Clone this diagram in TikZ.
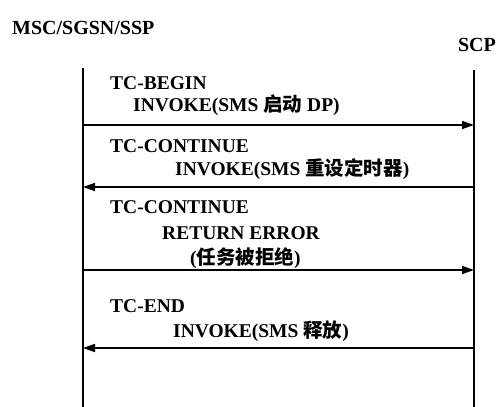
\documentclass[tikz,border=0pt]{standalone}
\usepackage{fontspec}
\setmainfont{Liberation Serif}
\newfontfamily\cjk{Noto Sans CJK SC}
\usetikzlibrary{arrows.meta}
\def\leftx{83}
\def\rightx{474}
\tikzstyle{msg} = [line width=1.5pt,-{Triangle[length=12pt,width=8pt]}]

\begin{document}
\begin{tikzpicture}[x=1pt,y=-1pt]
    \tikzstyle{lifeline}=[line width=1.5pt]
    \tikzstyle{entity}=[inner sep=0pt, font=\fontsize{20}{24}\selectfont\bfseries]
    \tikzstyle{msg text}=[inner sep=0pt, anchor=west, font=\fontsize{19.5}{23}\selectfont\bfseries]
    \useasboundingbox (0,0) rectangle (499,407);

    % Draw the entities
    \node[entity, anchor=west] (MSC) at (12,28) {MSC/SGSN/SSP};
    \node[entity, anchor=east] (SCP) at (496,45) {SCP};

    % Draw the lifelines
    \coordinate (L-top) at (\leftx,68);
    \coordinate (L-bot) at (\leftx,407);
    \coordinate (R-top) at (\rightx,70);
    \coordinate (R-bot) at (\rightx,407);
    \draw[lifeline] (L-top) -- (L-bot);
    \draw[lifeline] (R-top) -- (R-bot);

    % Points where the messages meet the lifelines
    \foreach \name / \y in {1/125,2/187,3/270,4/348}
    {
        \coordinate (L-\name) at (\leftx,\y);
        \coordinate (R-\name) at (\rightx,\y);
    }

    % Draw the messages
    \node[msg text] (T-1) at (110,83) {TC-BEGIN};
    \node[msg text] (I-1) at (133,105) {INVOKE(SMS {\cjk 启动} DP)};
    \draw[msg] (L-1) -- (R-1);

    \node[msg text] (T-2) at (110,146) {TC-CONTINUE};
    \node[msg text] (I-2) at (175,169) {INVOKE(SMS {\cjk 重设定时器})};
    \draw[msg] (R-2) -- (L-2);

    \node[msg text] (T-3) at (110,207) {TC-CONTINUE};
    \node[msg text] (I-3) at (162,233) {RETURN ERROR};
    \node[msg text] (E-3) at (190,258) {({\cjk 任务被拒绝})};
    \draw[msg] (L-3) -- (R-3);

    \node[msg text] (T-4) at (110,306) {TC-END};
    \node[msg text] (I-4) at (173,331) {INVOKE(SMS {\cjk 释放})};
    \draw[msg] (R-4) -- (L-4);

\end{tikzpicture}
\end{document}
